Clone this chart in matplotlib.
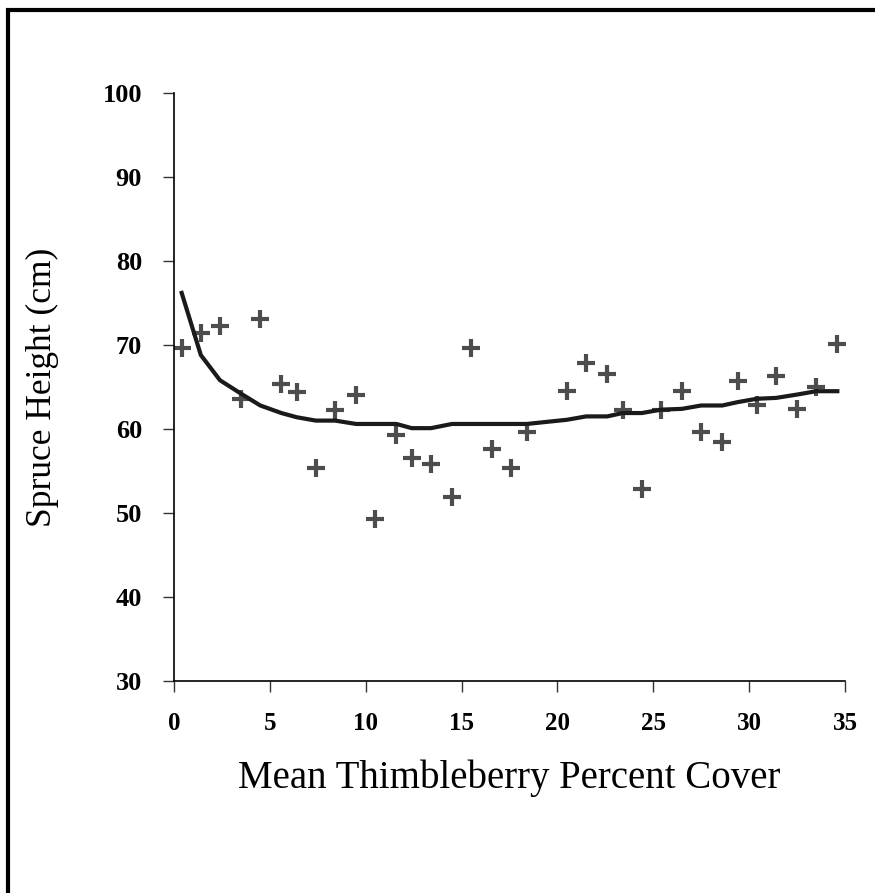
import matplotlib
matplotlib.use('Agg')
import matplotlib.pyplot as plt
from matplotlib.patches import Rectangle

# Scatter: mean thimbleberry cover vs spruce height
cover = [0.4, 1.4, 2.4, 3.5, 4.5, 5.6, 6.4, 7.4, 8.4, 9.5, 10.5, 11.6,
         12.4, 13.4, 14.5, 15.5, 16.6, 17.6, 18.4, 20.5, 21.5, 22.6, 23.4,
         24.4, 25.4, 26.5, 27.5, 28.6, 29.4, 30.4, 31.4, 32.5, 33.5, 34.6]
height = [69.7, 71.4, 72.3, 63.6, 73.1, 65.4, 64.4, 55.4, 62.3, 64.0, 49.3, 59.3,
          56.6, 55.8, 51.9, 69.7, 57.6, 55.4, 59.7, 64.5, 67.9, 66.6, 62.3,
          52.8, 62.3, 64.5, 59.7, 58.4, 65.7, 62.8, 66.3, 62.4, 65.0, 70.1]

# Smoothed trend line
fit = [76.2, 68.8, 65.8, 64.2, 62.8, 61.9, 61.4, 61.0, 61.0, 60.6, 60.6, 60.6,
       60.1, 60.1, 60.6, 60.6, 60.6, 60.6, 60.6, 61.1, 61.5, 61.5, 61.9,
       61.9, 62.3, 62.4, 62.8, 62.8, 63.2, 63.6, 63.7, 64.1, 64.5, 64.5]

xticks = [0, 5, 10, 15, 20, 25, 30, 35]
yticks = [30, 40, 50, 60, 70, 80, 90, 100]

fig = plt.figure(figsize=(8.75, 8.93), dpi=100)
ax = fig.add_axes([174 / 875, 1 - 681 / 893, 671 / 875, 588 / 893])

ax.plot(cover, fit, color='#1a1a1a', linewidth=3.0, zorder=3)
ax.plot(cover, height, linestyle='none', marker='+', markersize=13,
        markeredgewidth=3.0, color='#4d4d4d', zorder=2)

ax.set_xlim(0, 35)
ax.set_ylim(30, 100)
ax.set_xticks(xticks)
ax.set_yticks(yticks)
ax.set_xticklabels([str(t) for t in xticks], fontfamily='Liberation Serif',
                   fontweight='bold', fontsize=18)
ax.set_yticklabels([str(t) for t in yticks], fontfamily='Liberation Serif',
                   fontweight='bold', fontsize=19)
ax.tick_params(axis='both', direction='out', length=8, width=1, color='#333333')
ax.tick_params(axis='x', pad=14)
ax.tick_params(axis='y', pad=15)

for side in ['top', 'right']:
    ax.spines[side].set_visible(False)
for side in ['left', 'bottom']:
    ax.spines[side].set_linewidth(1.2)

ax.set_ylabel('Spruce Height (cm)', fontfamily='Liberation Serif', fontsize=25.5,
              labelpad=31)
ax.set_xlabel('Mean Thimbleberry Percent Cover', fontfamily='Liberation Serif',
              fontsize=28, labelpad=18)

# Frame around the whole picture (top and left edges visible)
fig.patches.append(Rectangle((8 / 875, -0.1), 1.2, 1 - 10 / 893 + 0.1,
                             transform=fig.transFigure, fill=False,
                             edgecolor='black', linewidth=3.0))

fig.savefig('out.png', dpi=100)
